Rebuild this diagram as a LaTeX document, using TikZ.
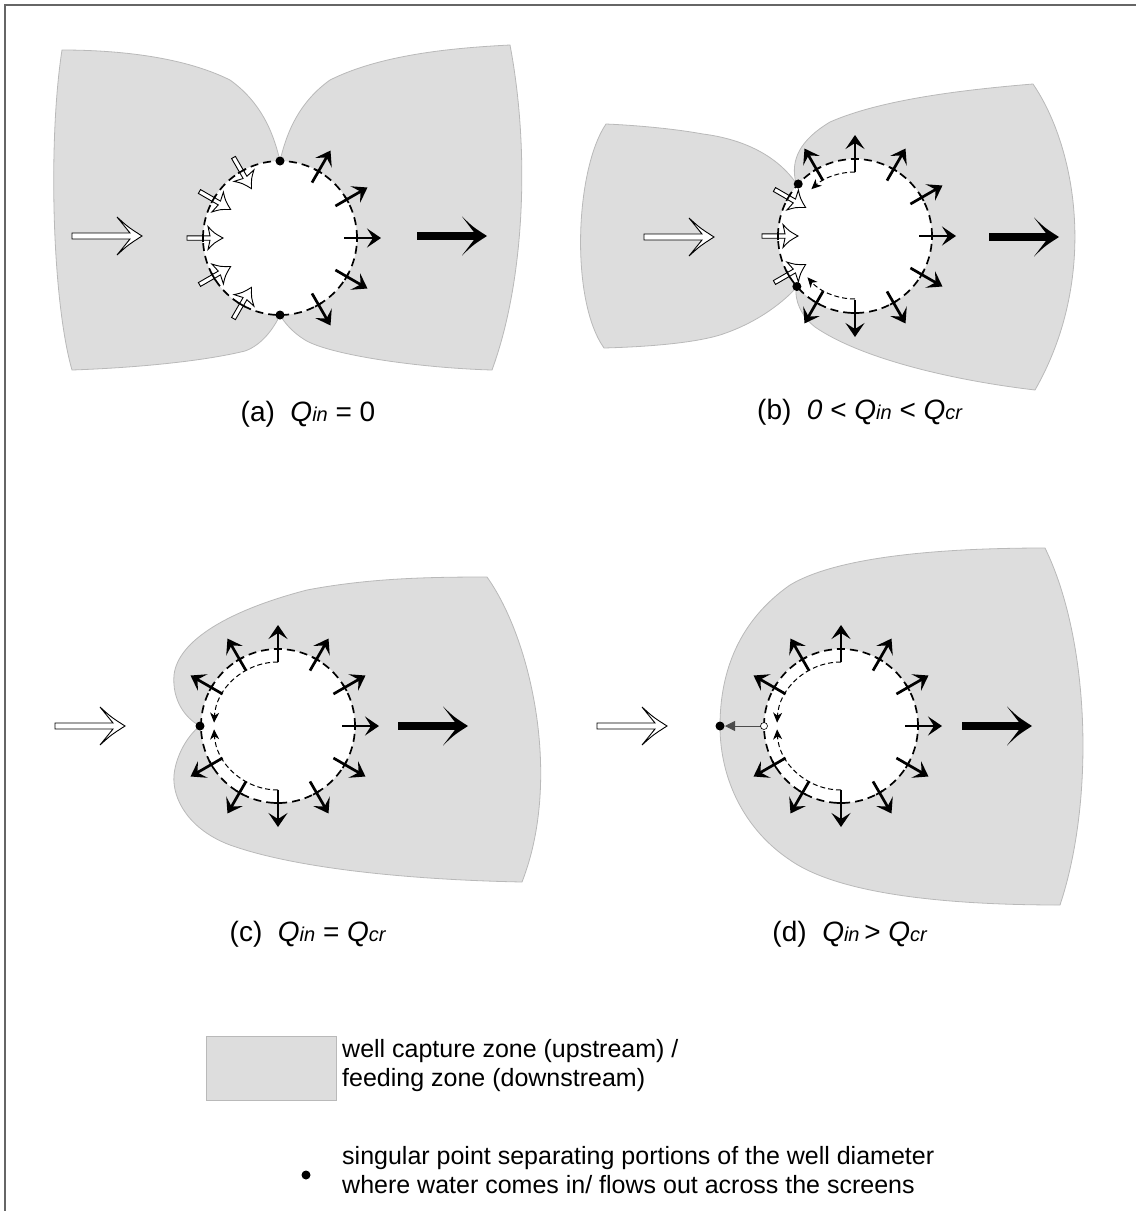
\documentclass[tikz,border=0pt]{standalone}
\usepackage{fontspec}
\setmainfont{Liberation Sans}
\usetikzlibrary{arrows.meta,calc}
\definecolor{zone}{RGB}{221,221,221}
\definecolor{zoneedge}{RGB}{185,185,185}
\newcommand\Qs[1]{\textit{Q}{\fontsize{20}{20}\selectfont\textit{#1}}}
\tikzset{
  zonefill/.style={fill=zone, draw=zoneedge, line width=0.8pt},
  wellring/.style={draw=black, line width=1.7pt, dash pattern=on 8pt off 5pt},
  innerarc/.style={draw=black, line width=1pt, dash pattern=on 5pt off 3pt, -{Stealth[length=10pt,width=9pt,inset=3pt]}},
  labtext/.style={font=\fontsize{28}{34}\selectfont, inner sep=0pt},
  legtext/.style={font=\fontsize{25}{29}\selectfont, align=left, anchor=west, inner sep=0pt},
  outblk/.pic={
    \draw[line width=2.7pt, -{Stealth[length=14pt,width=19pt,inset=6pt]}] (64,0) -- (101,0);
    \draw[line width=1.7pt] (77,-4) -- (77,4);
  },
  inhol/.pic={
    \filldraw[fill=white, draw=black, line width=0.9pt] (93,-2.2) -- (70,-2.2) -- (72,-11.5) .. controls (66,-5) .. (57,0) .. controls (66,5) .. (72,11.5) -- (70,2.2) -- (93,2.2) -- cycle;
    \draw[line width=1.7pt] (77,-4) -- (77,4);
  },
  bighol/.pic={
    \filldraw[fill=white, draw=black, line width=0.9pt] (0,-3) -- (58,-3) -- (45,-19) .. controls (56,-9) .. (70,0) .. controls (56,9) .. (45,19) -- (58,3) -- (0,3) -- cycle;
  },
  bigblk/.pic={
    \fill[black] (0,-3.8) -- (57,-3.8) -- (45,-19.5) .. controls (56,-9) .. (70,0) .. controls (56,9) .. (45,19.5) -- (57,3.8) -- (0,3.8) -- cycle;
  }
}
\begin{document}
\begin{tikzpicture}[x=1pt,y=-1pt]
\useasboundingbox (0,0) rectangle (1136,1211);
\draw[black!60, line width=1.5pt] (5,1211) -- (5,5) -- (1136,5);

% ---------------- (a)
\coordinate (ca) at (280,238);
\path[zonefill] (280,161) .. controls (275,140) and (265,105) .. (230,80)
  .. controls (180,55) and (110,50) .. (62,50)
  .. controls (48,140) and (52,300) .. (72,370)
  .. controls (130,368) and (200,362) .. (245,351)
  .. controls (262,345) and (274,328) .. (280,315) -- cycle;
\path[zonefill] (280,161) .. controls (285,140) and (295,105) .. (330,80)
  .. controls (380,55) and (450,48) .. (510,45)
  .. controls (530,150) and (525,280) .. (492,370)
  .. controls (420,368) and (330,355) .. (305,340)
  .. controls (292,332) and (284,322) .. (280,315) -- cycle;
\fill[white] (ca) circle[radius=77pt];
\draw[wellring] (ca) circle[radius=77pt];
\foreach \a in {120,150,180,210,240} \pic[rotate=\a] at (ca) {inhol};
\foreach \a in {60,30,0,-30,-60} \pic[rotate=\a] at (ca) {outblk};
\fill ($(ca)+(90:77pt)$) circle[radius=4.5pt];
\fill ($(ca)+(270:77pt)$) circle[radius=4.5pt];
\pic at (72,236) {bighol};
\pic at (417,236) {bigblk};
\node[labtext] (la) at (308,414) {(a)\ \ \Qs{in} = 0};

% ---------------- (b)
\coordinate (cb) at (855,236);
\path[zonefill] (796,183) .. controls (780,160) and (750,140) .. (703,134)
  .. controls (670,128) and (630,125) .. (606,124)
  .. controls (575,170) and (570,300) .. (604,348)
  .. controls (640,347) and (690,344) .. (720,335)
  .. controls (760,322) and (785,300) .. (796,288) -- cycle;
\path[zonefill] (796,183) .. controls (790,160) and (800,140) .. (830,122)
  .. controls (880,100) and (960,90) .. (1033,84)
  .. controls (1078,150) and (1098,280) .. (1035,390)
  .. controls (950,380) and (860,358) .. (815,327)
  .. controls (800,315) and (795,300) .. (796,288) -- cycle;
\fill[white] (cb) circle[radius=77pt];
\draw[wellring] (cb) circle[radius=77pt];
\draw[innerarc] ($(cb)+(90:64pt)$) arc[start angle=90, end angle=133, radius=64pt];
\draw[innerarc] ($(cb)+(270:63pt)$) arc[start angle=270, end angle=221, radius=63pt];
\foreach \a in {150,180,210} \pic[rotate=\a] at (cb) {inhol};
\foreach \a in {90,120,60,30,0,-30,-60,-90,-120} \pic[rotate=\a] at (cb) {outblk};
\fill ($(cb)+(137.5:77pt)$) circle[radius=4.5pt];
\fill ($(cb)+(221:77pt)$) circle[radius=4.5pt];
\pic at (644,237) {bighol};
\pic at (989,237) {bigblk};
\node[labtext] (lb) at (860,412) {(b)\ \ \textit{0} < \Qs{in} < \Qs{cr}};

% ---------------- (c)
\coordinate (cc) at (278,726);
\path[zonefill] (200,726) .. controls (185,718) and (172,700) .. (174,675)
  .. controls (178,640) and (230,610) .. (307,590)
  .. controls (370,578) and (430,577) .. (487,577)
  .. controls (532,640) and (562,780) .. (522,882)
  .. controls (420,880) and (300,870) .. (230,845)
  .. controls (190,830) and (172,800) .. (174,775)
  .. controls (176,755) and (188,735) .. (200,726) -- cycle;
\fill[white] (cc) circle[radius=77pt];
\draw[wellring] (cc) circle[radius=77pt];
\draw[innerarc] ($(cc)+(90:64pt)$) arc[start angle=90, end angle=177, radius=64pt];
\draw[innerarc] ($(cc)+(270:64pt)$) arc[start angle=270, end angle=183, radius=64pt];
\foreach \a in {90,120,150,60,30,0,-30,-60,-90,-120,-150} \pic[rotate=\a] at (cc) {outblk};
\fill (200,726) circle[radius=4.5pt];
\pic at (55,726) {bighol};
\pic at (398,726) {bigblk};
\node[labtext] (lc) at (308,934) {(c)\ \ \Qs{in} =\ \Qs{cr}};

% ---------------- (d)
\coordinate (cd) at (841,726);
\path[zonefill] (720,726) .. controls (720,670) and (740,620) .. (790,585)
  .. controls (840,555) and (950,548) .. (1045,548)
  .. controls (1090,640) and (1095,800) .. (1060,905)
  .. controls (950,905) and (840,895) .. (790,860)
  .. controls (745,830) and (720,780) .. (720,726) -- cycle;
\fill[white] (cd) circle[radius=77pt];
\draw[wellring] (cd) circle[radius=77pt];
\draw[innerarc] ($(cd)+(90:64pt)$) arc[start angle=90, end angle=177, radius=64pt];
\draw[innerarc] ($(cd)+(270:64pt)$) arc[start angle=270, end angle=183, radius=64pt];
\foreach \a in {90,120,150,60,30,0,-30,-60,-90,-120,-150} \pic[rotate=\a] at (cd) {outblk};
\coordinate (sd) at (720,726);
\coordinate (od) at (764,726);
\draw[black!70, line width=0.8pt, -{Triangle[length=10pt,width=10pt]}] (od) -- ($(sd)+(5,0)$);
\filldraw[fill=white, draw=black, line width=0.6pt] (od) circle[radius=3.5pt];
\fill (sd) circle[radius=4.5pt];
\pic at (597,726) {bighol};
\pic at (962,726) {bigblk};
\node[labtext] (ld) at (850,934) {(d)\ \ \Qs{in}\,> \Qs{cr}};

% ---------------- legend
\path[zonefill] (206,1036) rectangle (336,1100);
\node[legtext] (lg1) at (342,1066) {well capture zone (upstream) /\\feeding zone (downstream)};
\fill (306,1175) circle[radius=4.5pt];
\node[legtext] (lg2) at (342,1170) {singular point separating portions of the well diameter\\where water comes in/ flows out across the screens};
\end{tikzpicture}
\end{document}
